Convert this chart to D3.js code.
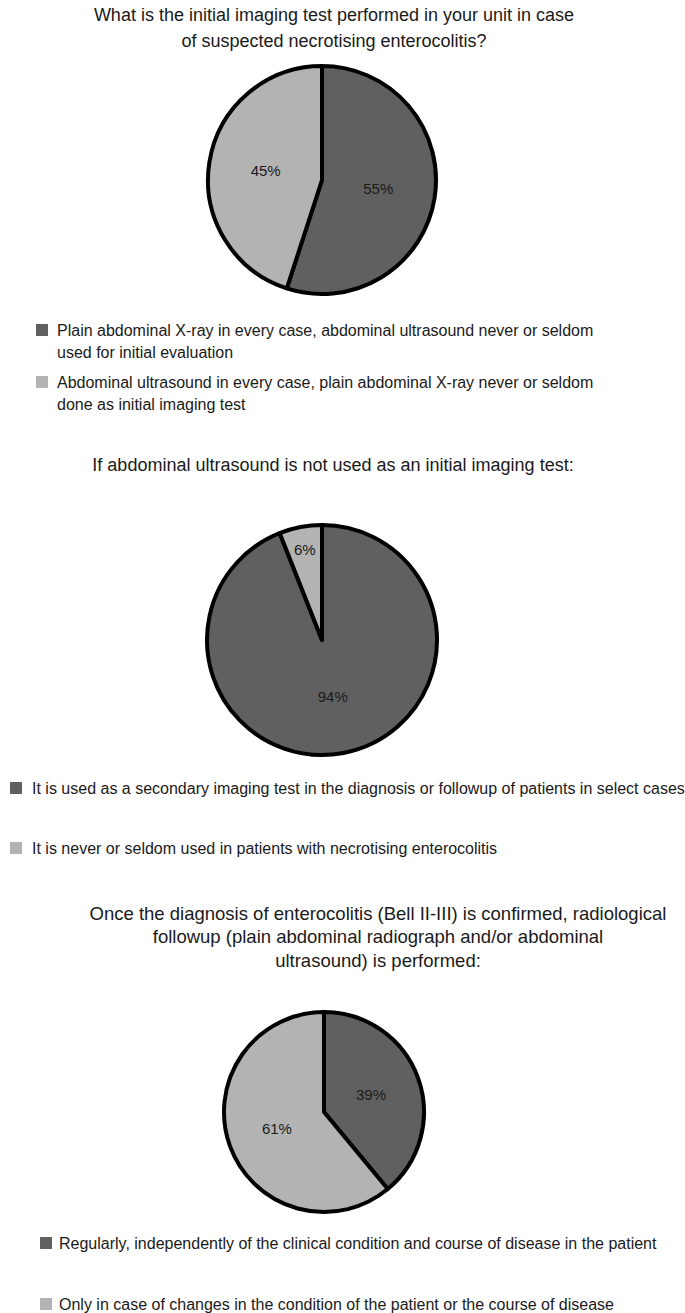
<!DOCTYPE html>
<html>
<head>
<meta charset="utf-8">
<script src="https://cdn.jsdelivr.net/npm/d3@7"></script>
<style>
  body { margin: 0; background: #fff; }
  text { font-family: "Liberation Sans", Arial, Helvetica, sans-serif; fill: #1a1a1a; }
</style>
</head>
<body>
<svg id="chart" width="685" height="1313"></svg>
<script>
// chart 1
var title1 = ["What is the initial imaging test performed in your unit in case",
              "of suspected necrotising enterocolitis?"];
var categories1 = [["Plain abdominal X-ray in every case, abdominal ultrasound never or seldom", "used for initial evaluation"],
                   ["Abdominal ultrasound in every case, plain abdominal X-ray never or seldom", "done as initial imaging test"]];
var values1 = [55, 45];

// chart 2
var title2 = ["If abdominal ultrasound is not used as an initial imaging test:"];
var categories2 = [["It is used as a secondary imaging test in the diagnosis or followup of patients in select cases"],
                   ["It is never or seldom used in patients with necrotising enterocolitis"]];
var values2 = [94, 6];

// chart 3
var title3 = ["Once the diagnosis of enterocolitis (Bell II-III) is confirmed, radiological",
              "followup (plain abdominal radiograph and/or abdominal",
              "ultrasound) is performed:"];
var categories3 = [["Regularly, independently of the clinical condition and course of disease in the patient"],
                   ["Only in case of changes in the condition of the patient or the course of disease"]];
var values3 = [39, 61];

var colors = ["#606060", "#b3b3b3"];

var svg = d3.select("#chart");

// where each of the three blocks sits
var blocks = [
  {title: title1, cats: categories1, vals: values1, titleX: 334, titleY: 21, titleSize: 18, titleStep: 26,
   cx: 322, cy: 180, r: 114, legX: 36, legTextX: 57, legY: [330, 382], lineStep: 22},
  {title: title2, cats: categories2, vals: values2, titleX: 333, titleY: 471, titleSize: 18, titleStep: 24,
   cx: 322, cy: 640, r: 115, legX: 10, legTextX: 32, legY: [788, 848], lineStep: 20},
  {title: title3, cats: categories3, vals: values3, titleX: 378, titleY: 919.5, titleSize: 18.5, titleStep: 23.5,
   cx: 324, cy: 1112, r: 100, legX: 40, legTextX: 59, legY: [1243, 1304], lineStep: 20}
];

var pie = d3.pie().sort(null).value(function (d) { return d; });

blocks.forEach(function (b) {
  var g = svg.append("g");

  g.selectAll("text.title")
      .data(b.title)
      .enter().append("text")
      .attr("class", "title")
      .attr("x", b.titleX)
      .attr("y", function (d, i) { return b.titleY + i * b.titleStep; })
      .attr("text-anchor", "middle")
      .style("font-size", b.titleSize + "px")
      .text(function (d) { return d; });

  var arc = d3.arc().innerRadius(0).outerRadius(b.r);
  var labelArc = d3.arc().innerRadius(b.r * 0.5).outerRadius(b.r * 0.5);
  var smallArc = d3.arc().innerRadius(b.r * 0.8).outerRadius(b.r * 0.8);
  var total = d3.sum(b.vals);

  var pg = g.append("g").attr("transform", "translate(" + b.cx + "," + b.cy + ")");
  var slices = pie(b.vals);

  pg.selectAll("path")
      .data(slices)
      .enter().append("path")
      .attr("d", arc)
      .attr("fill", function (d, i) { return colors[i]; })
      .attr("stroke", "#000")
      .attr("stroke-width", 4)
      .attr("stroke-linejoin", "round");

  pg.selectAll("text")
      .data(slices)
      .enter().append("text")
      .attr("transform", function (d) {
        // thin slices get their label pushed out toward the rim
        var a = d.value / total < 0.1 ? smallArc : labelArc;
        return "translate(" + a.centroid(d) + ")";
      })
      .attr("text-anchor", "middle")
      .attr("dy", "0.35em")
      .style("font-size", "15px")
      .text(function (d) { return d.value + "%"; });

  b.cats.forEach(function (lines, i) {
    g.append("rect")
        .attr("x", b.legX)
        .attr("y", b.legY[i] - 6)
        .attr("width", 12)
        .attr("height", 12)
        .attr("fill", colors[i]);
    g.selectAll(null)
        .data(lines)
        .enter().append("text")
        .attr("x", b.legTextX)
        .attr("y", function (d, j) { return b.legY[i] + j * b.lineStep; })
        .attr("dy", "0.35em")
        .style("font-size", "16px")
        .text(function (d) { return d; });
  });
});
</script>
</body>
</html>
